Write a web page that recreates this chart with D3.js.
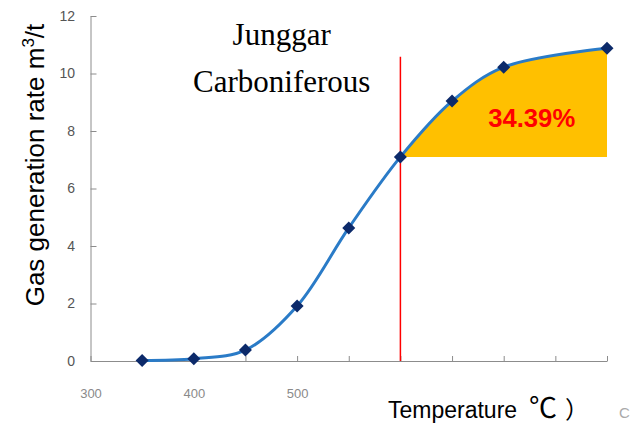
<!DOCTYPE html>
<html><head><meta charset="utf-8">
<script src="https://cdn.jsdelivr.net/npm/d3@7"></script>
<style>
html,body{margin:0;padding:0;background:#fff;}
svg{display:block;}
</style></head>
<body>
<svg id="chart" width="633" height="424"></svg>
<script>
// ---- data ----
const temperatures = [350, 400, 450, 500, 550, 600, 650, 700, 800];
const gasRates     = [0.02, 0.08, 0.38, 1.91, 4.63, 7.10, 9.04, 10.22, 10.88];
const xTickValues  = [300, 350, 400, 450, 500, 550, 600, 650, 700, 750, 800];
const xTickLabels  = ["300", "", "400", "", "500", "", "", "", "", "", ""];
const yTickValues  = [0, 2, 4, 6, 8, 10, 12];
const thresholdTemp = 600;
const shareLabel = "34.39%";
const titleLines = ["Junggar", "Carboniferous"];

const svg = d3.select("#chart");
const x = d3.scaleLinear().domain([300, 800]).range([90.5, 607]);
const y = d3.scaleLinear().domain([0, 12]).range([361, 16]);
const pts = temperatures.map((t, i) => ({t, v: gasRates[i]}));
const curve = d3.curveCatmullRom.alpha(0.5);

// filled region beyond threshold (clip the full-curve area)
const baseV = gasRates[temperatures.indexOf(thresholdTemp)];
svg.append("clipPath").attr("id", "fillclip").append("rect")
  .attr("x", x(thresholdTemp)).attr("y", 0)
  .attr("width", x(800) - x(thresholdTemp)).attr("height", y(baseV));
svg.append("path")
  .datum(pts)
  .attr("clip-path", "url(#fillclip)")
  .attr("fill", "#FFC000")
  .attr("d", d3.area().curve(curve).x(d => x(d.t)).y0(y(baseV)).y1(d => y(d.v)));

// axes
const xAxis = d3.axisBottom(x).tickValues(xTickValues)
  .tickFormat((d, i) => xTickLabels[i]).tickSizeInner(-5).tickSizeOuter(0).tickPadding(28);
const gx = svg.append("g").attr("transform", `translate(0,${y(0)})`).call(xAxis);
gx.select(".domain").attr("stroke", "#8c8c8c");
gx.selectAll(".tick line").attr("stroke", "#8c8c8c");
gx.selectAll("text").attr("fill", "#8a8a8a").attr("font-size", 13)
  .attr("font-family", "Liberation Sans, Arial, sans-serif");

const yAxis = d3.axisLeft(y).tickValues(yTickValues).tickSizeInner(-6).tickSizeOuter(0).tickPadding(15.5);
const gy = svg.append("g").attr("transform", `translate(${x(300)},0)`).call(yAxis);
gy.select(".domain").attr("stroke", "#8c8c8c");
gy.selectAll(".tick line").attr("stroke", "#8c8c8c");
gy.selectAll("text").attr("fill", "#555").attr("font-size", 14)
  .attr("font-family", "Liberation Sans, Arial, sans-serif");

// threshold line
svg.append("line")
  .attr("x1", x(thresholdTemp)).attr("x2", x(thresholdTemp))
  .attr("y1", y(10.58)).attr("y2", y(0))
  .attr("stroke", "#FF0000").attr("stroke-width", 1.5);

// curve
svg.append("path").datum(pts)
  .attr("fill", "none").attr("stroke", "#2A7BC7").attr("stroke-width", 3)
  .attr("d", d3.line().curve(curve).x(d => x(d.t)).y(d => y(d.v)));

// markers
svg.selectAll(".mk").data(pts).join("path")
  .attr("class", "mk")
  .attr("transform", d => `translate(${x(d.t)},${y(d.v)})`)
  .attr("d", "M0,-6.5L6.5,0L0,6.5L-6.5,0Z")
  .attr("fill", "#0C2A6A");

// percentage label
svg.append("text")
  .attr("x", 531.7).attr("y", 126.5)
  .attr("text-anchor", "middle")
  .attr("font-family", "Liberation Sans, Arial, sans-serif")
  .attr("font-weight", "bold").attr("font-size", 26)
  .attr("textLength", 87).attr("lengthAdjust", "spacingAndGlyphs")
  .attr("fill", "#FF0000").text(shareLabel);

// title
svg.selectAll(".ttl").data(titleLines).join("text")
  .attr("class", "ttl")
  .attr("x", 281.7).attr("y", (d, i) => 45 + i * 46.7)
  .attr("text-anchor", "middle")
  .attr("font-family", "Liberation Serif, Times New Roman, serif")
  .attr("font-size", 31).attr("fill", "#000")
  .text(d => d);

// y axis title
const yt = svg.append("text")
  .attr("transform", "translate(43.5,165) rotate(-90)")
  .attr("text-anchor", "middle")
  .attr("font-family", "Liberation Sans, Arial, sans-serif")
  .attr("font-size", 26).attr("fill", "#000");
yt.append("tspan").text("Gas generation rate m");
yt.append("tspan").attr("font-size", 17).attr("dy", -10).text("3");
yt.append("tspan").attr("dy", 10).text("/t");

// x axis title
const xt = svg.append("text")
  .attr("y", 417.5)
  .attr("font-family", "Liberation Sans, Arial, sans-serif")
  .attr("font-size", 23).attr("fill", "#000");
xt.append("tspan").attr("x", 388).text("Temperature");
xt.append("tspan").attr("x", 529).attr("font-family", "Noto Sans CJK SC, sans-serif").attr("font-size", 28).text("℃");
xt.append("tspan").attr("x", 565).attr("font-family", "Noto Sans CJK SC, sans-serif").attr("font-size", 24).text("）");
svg.append("text")
  .attr("x", 619).attr("y", 418)
  .attr("font-family", "Liberation Sans, Arial, sans-serif")
  .attr("font-size", 15).attr("fill", "#aaa")
  .text("C");
</script>
</body></html>
